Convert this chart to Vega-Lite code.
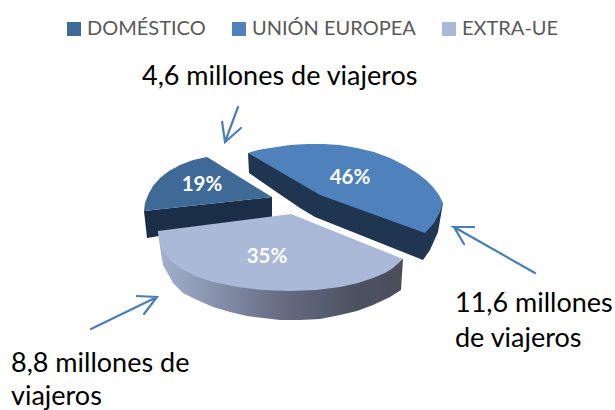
{
"$schema":"https://vega.github.io/schema/vega-lite/v6.json",
"width":615,"height":410,"padding":0,"autosize":{"type":"none"},
"background":"white",
"view":{"stroke":null},
"config":{"font":"Lato"},
"datasets":{
"shapes":[
{"part":"domWall","i":1,"x":144,"y":211},{"part":"domWall","i":2,"x":147,"y":238},{"part":"domWall","i":3,"x":272,"y":217},{"part":"domWall","i":4,"x":272,"y":197},
{"part":"ueWall","i":1,"x":248,"y":153},{"part":"ueWall","i":2,"x":249,"y":173},{"part":"ueWall","i":3,"x":275,"y":191},{"part":"ueWall","i":4,"x":300,"y":208},{"part":"ueWall","i":5,"x":315,"y":217},{"part":"ueWall","i":6,"x":423,"y":260},{"part":"ueWall","i":7,"x":430,"y":250},{"part":"ueWall","i":8,"x":438,"y":232},{"part":"ueWall","i":9,"x":443,"y":203},
{"part":"extraWall","i":1,"x":158,"y":231},{"part":"extraWall","i":2,"x":160,"y":247},{"part":"extraWall","i":3,"x":163,"y":265},{"part":"extraWall","i":4,"x":173,"y":283},{"part":"extraWall","i":5,"x":183,"y":293},{"part":"extraWall","i":6,"x":197,"y":300},{"part":"extraWall","i":7,"x":213,"y":307},{"part":"extraWall","i":8,"x":230,"y":312},{"part":"extraWall","i":9,"x":247,"y":316},{"part":"extraWall","i":10,"x":263,"y":318},{"part":"extraWall","i":11,"x":280,"y":320},{"part":"extraWall","i":12,"x":300,"y":320},{"part":"extraWall","i":13,"x":320,"y":319},{"part":"extraWall","i":14,"x":340,"y":315},{"part":"extraWall","i":15,"x":357,"y":311},{"part":"extraWall","i":16,"x":373,"y":305},{"part":"extraWall","i":17,"x":390,"y":297},{"part":"extraWall","i":18,"x":401,"y":290},{"part":"extraWall","i":19,"x":403,"y":259},
{"part":"DOMÉSTICO","i":1,"x":272,"y":197},{"part":"DOMÉSTICO","i":2,"x":207,"y":157},{"part":"DOMÉSTICO","i":3,"x":193,"y":160},{"part":"DOMÉSTICO","i":4,"x":180,"y":165},{"part":"DOMÉSTICO","i":5,"x":169,"y":171},{"part":"DOMÉSTICO","i":6,"x":160,"y":178},{"part":"DOMÉSTICO","i":7,"x":153,"y":186},{"part":"DOMÉSTICO","i":8,"x":148,"y":195},{"part":"DOMÉSTICO","i":9,"x":145,"y":203},{"part":"DOMÉSTICO","i":10,"x":144,"y":211},
{"part":"UNIÓN EUROPEA","i":1,"x":248,"y":153},{"part":"UNIÓN EUROPEA","i":2,"x":258,"y":150},{"part":"UNIÓN EUROPEA","i":3,"x":270,"y":148},{"part":"UNIÓN EUROPEA","i":4,"x":290,"y":145},{"part":"UNIÓN EUROPEA","i":5,"x":307,"y":144},{"part":"UNIÓN EUROPEA","i":6,"x":323,"y":144},{"part":"UNIÓN EUROPEA","i":7,"x":340,"y":145},{"part":"UNIÓN EUROPEA","i":8,"x":357,"y":148},{"part":"UNIÓN EUROPEA","i":9,"x":374,"y":152},{"part":"UNIÓN EUROPEA","i":10,"x":390,"y":158},{"part":"UNIÓN EUROPEA","i":11,"x":404,"y":165},{"part":"UNIÓN EUROPEA","i":12,"x":417,"y":173},{"part":"UNIÓN EUROPEA","i":13,"x":426,"y":180},{"part":"UNIÓN EUROPEA","i":14,"x":433,"y":187},{"part":"UNIÓN EUROPEA","i":15,"x":439,"y":195},{"part":"UNIÓN EUROPEA","i":16,"x":443,"y":203},{"part":"UNIÓN EUROPEA","i":17,"x":440,"y":212},{"part":"UNIÓN EUROPEA","i":18,"x":434,"y":223},{"part":"UNIÓN EUROPEA","i":19,"x":425,"y":233},{"part":"UNIÓN EUROPEA","i":20,"x":320,"y":195},
{"part":"EXTRA-UE","i":1,"x":291,"y":214},{"part":"EXTRA-UE","i":2,"x":158,"y":231},{"part":"EXTRA-UE","i":3,"x":159,"y":240},{"part":"EXTRA-UE","i":4,"x":162,"y":250},{"part":"EXTRA-UE","i":5,"x":170,"y":260},{"part":"EXTRA-UE","i":6,"x":180,"y":268},{"part":"EXTRA-UE","i":7,"x":195,"y":276},{"part":"EXTRA-UE","i":8,"x":213,"y":282},{"part":"EXTRA-UE","i":9,"x":238,"y":287},{"part":"EXTRA-UE","i":10,"x":263,"y":290},{"part":"EXTRA-UE","i":11,"x":290,"y":291},{"part":"EXTRA-UE","i":12,"x":316,"y":290},{"part":"EXTRA-UE","i":13,"x":340,"y":287},{"part":"EXTRA-UE","i":14,"x":358,"y":283},{"part":"EXTRA-UE","i":15,"x":373,"y":278},{"part":"EXTRA-UE","i":16,"x":385,"y":273},{"part":"EXTRA-UE","i":17,"x":393,"y":268},{"part":"EXTRA-UE","i":18,"x":403,"y":259}
],
"arrows":[
{"a":"dom","i":1,"x":238,"y":107},{"a":"dom","i":2,"x":225,"y":142},{"a":"dom","i":3,"x":222,"y":121},{"a":"dom","i":4,"x":225,"y":142},{"a":"dom","i":5,"x":241,"y":128},
{"a":"extra","i":1,"x":91,"y":329},{"a":"extra","i":2,"x":157,"y":297},{"a":"extra","i":3,"x":136,"y":296},{"a":"extra","i":4,"x":157,"y":297},{"a":"extra","i":5,"x":144,"y":314},
{"a":"ue","i":1,"x":535,"y":273},{"a":"ue","i":2,"x":454,"y":227},{"a":"ue","i":3,"x":475,"y":227},{"a":"ue","i":4,"x":454,"y":227},{"a":"ue","i":5,"x":464,"y":244}
],
"shares":[
{"slice":"DOMÉSTICO","share":"19%","x":202,"y":185},
{"slice":"UNIÓN EUROPEA","share":"46%","x":350,"y":178},
{"slice":"EXTRA-UE","share":"35%","x":267,"y":257}
],
"notes":[
{"text":"4,6 millones de viajeros","x":142,"y":85},
{"text":"8,8 millones de","x":11,"y":372},
{"text":"viajeros","x":11,"y":405},
{"text":"11,6 millones","x":455,"y":312},
{"text":"de viajeros","x":455,"y":347}
]
},
"encoding":{
"x":{"field":"x","type":"quantitative","scale":{"domain":[0,615],"nice":false,"zero":false},"axis":null},
"y":{"field":"y","type":"quantitative","scale":{"domain":[410,0],"nice":false,"zero":false},"axis":null}
},
"layer":[
{"data":{"name":"shapes"},"transform":[{"filter":"datum.part=='domWall'"}],
 "mark":{"type":"line","fill":"#1a2e47","stroke":null,"clip":false},"encoding":{"order":{"field":"i"}}},
{"data":{"name":"shapes"},"transform":[{"filter":"datum.part=='ueWall'"}],
 "mark":{"type":"line","fill":"#1f3550","stroke":null},"encoding":{"order":{"field":"i"}}},
{"data":{"name":"shapes"},"transform":[{"filter":"datum.part=='extraWall'"}],
 "mark":{"type":"line","stroke":null,"fill":{"x1":0,"y1":0,"x2":1,"y2":0,"gradient":"linear","stops":[{"offset":0,"color":"#a3b1ce"},{"offset":0.5,"color":"#666d83"},{"offset":0.8,"color":"#4d5262"},{"offset":1,"color":"#4a4e5b"}]}},"encoding":{"order":{"field":"i"}}},
{"data":{"name":"shapes"},"transform":[{"filter":"datum.part=='DOMÉSTICO'||datum.part=='UNIÓN EUROPEA'||datum.part=='EXTRA-UE'"}],
 "mark":{"type":"line","filled":true,"stroke":null},
 "encoding":{"order":{"field":"i"},
  "fill":{"field":"part","type":"nominal","scale":{"domain":["DOMÉSTICO","UNIÓN EUROPEA","EXTRA-UE"],"range":["#3f6997","#4f81bd","#a9b9d7"]},
   "legend":{"title":null,"orient":"none","legendX":64,"legendY":19,"direction":"horizontal","columns":3,"symbolType":"square","symbolSize":196,"symbolStrokeWidth":0,"symbolOpacity":1,"labelFont":"Lato","labelFontSize":20,"labelColor":"#595959","labelOffset":3,"columnPadding":23,"padding":0,"gridAlign":"none","labelLimit":300}}}},
{"data":{"name":"arrows"},"mark":{"type":"line","stroke":"#4a7ebb","strokeWidth":2.2,"strokeCap":"round"},"encoding":{"detail":{"field":"a"},"order":{"field":"i"}}},
{"data":{"name":"shares"},"mark":{"type":"text","fontSize":20.5,"fontWeight":"bold","font":"Lato","color":"white","align":"center","baseline":"middle"},"encoding":{"text":{"field":"share"}}},
{"data":{"name":"notes"},"mark":{"type":"text","fontSize":27,"font":"Lato","color":"black","align":"left","baseline":"alphabetic"},"encoding":{"text":{"field":"text"}}}
]
}
